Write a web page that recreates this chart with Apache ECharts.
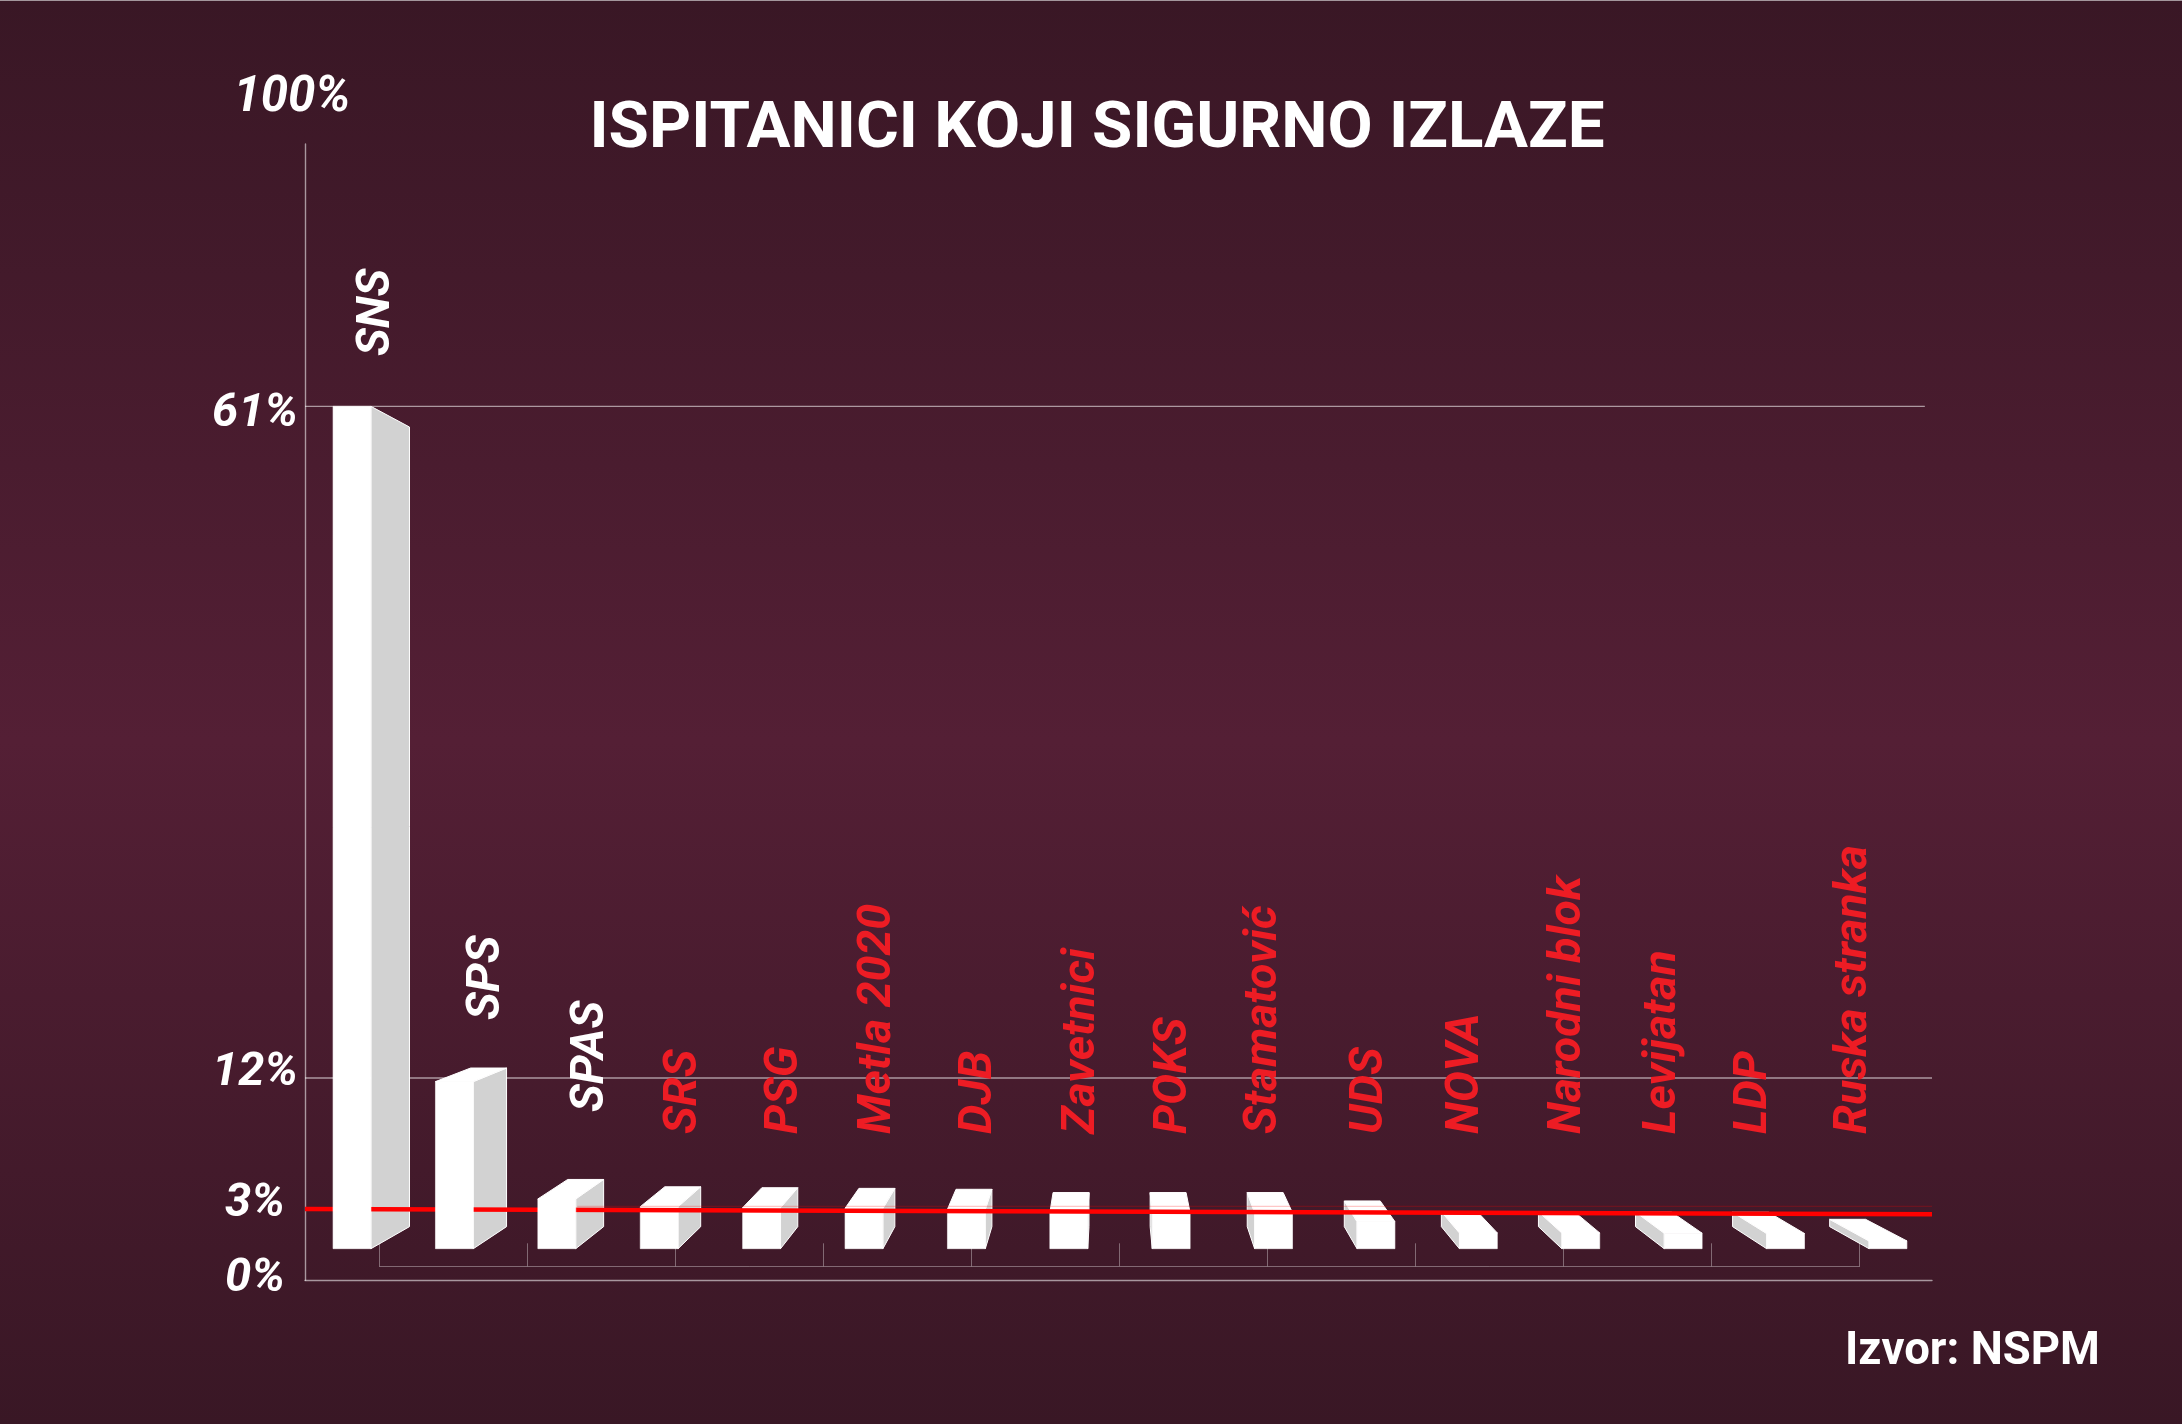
<!DOCTYPE html>
<html><head><meta charset="utf-8">
<style>html,body{margin:0;padding:0;background:#3a1826}#c{width:2182px;height:1424px}</style>
<script src="https://cdn.jsdelivr.net/npm/echarts@6/dist/echarts.min.js"></script>
</head><body><div id="c"></div>
<script>
// ---- data ----
const parties = ['SNS','SPS','SPAS','SRS','PSG','Metla 2020','DJB','Zavetnici','POKS','Stamatović','UDS','NOVA','Narodni blok','Levijatan','LDP','Ruska stranka'];
const shares  = [61,12.1,3.6,3.04,2.97,2.92,2.85,2.6,2.6,2.6,1.96,1.14,1.14,1.12,1.1,0.56];
const tickValues = [0,3,12,61,80];
const tickLabels = ['0%','3%','12%','61%','100%'];
const guide12 = 12.36;
const guide61 = 61;
const thresholdEnds = [2.875,2.5];
const thresholdFaint = 3.06;
const aboveThreshold = 3;      // first three parties pass the threshold (white labels)
const bracketBands = ['','','','','','','','','',''];

// ---- layout ----
const labelCx = [377,487,591,684.5,785,878,979,1082,1174,1264,1370,1466,1568,1663,1754,1854];
const labelBottom = [356,1020,1112,1134,1134,1134,1134,1134,1134,1134,1134,1134,1134,1134,1134,1134];
const tickShift = [[31,0],[-3,0],[-10,0],[8,0],[-45.5,37]]; // [dy,dx] of each tick label
const X_MIN = -0.459, X_MAX = 15.43;
const VP = {x:1112,y:814,kx:0.052,ky:0.0507};
const SANS = 'Roboto';

function back(p){return [p[0]+VP.kx*(VP.x-p[0]), p[1]+VP.ky*(VP.y-p[1])];}
function poly(points,fill,stroke){
  return {type:'polygon',shape:{points},style:{fill,stroke:stroke||null,lineWidth:stroke?1:0}};
}
function frontRect(api){
  const c=api.coord([api.value(0),api.value(1)]), b=api.coord([api.value(0),0]);
  const w=api.size([1,0])[0]*0.37;
  return {xl:c[0]-w/2,xr:c[0]+w/2,yt:c[1],yb:b[1]};
}
function rectEl(r){
  return {type:'rect',shape:{x:r.xl,y:r.yt,width:r.xr-r.xl,height:r.yb-r.yt},style:{fill:'#ffffff',stroke:'#ffffff',lineWidth:0.6}};
}
function bodyItem(params,api){
  const i=params.dataIndex, r=frontRect(api), kids=[];
  const tl=[r.xl,r.yt],tr=[r.xr,r.yt],bl=[r.xl,r.yb],br=[r.xr,r.yb];
  const btl=back(tl),btr=back(tr),bbl=back(bl),bbr=back(br);
  if(btr[0]>r.xr) kids.push(poly([tr,btr,bbr,br],'#d2d2d2','#ffffff'));
  if(btl[0]<r.xl) kids.push(poly([tl,btl,bbl,bl],'#d2d2d2','#ffffff'));
  if(r.yt>VP.y)   kids.push(poly([tl,tr,btr,btl],'#ffffff','#ffffff'));
  if(i>=aboveThreshold) kids.push(rectEl(r));
  return {type:'group',children:kids};
}
function frontItem(params,api){
  if(params.dataIndex>=aboveThreshold) return {type:'group',children:[]};
  return rectEl(frontRect(api));
}
function labelItem(params,api){
  const i=params.dataIndex;
  return {type:'text',x:labelCx[i],y:labelBottom[i],rotation:Math.PI/2,
    style:{text:parties[i],fill:i<aboveThreshold?'#ffffff':'#ed1c24',font:'italic 700 46.5px '+SANS,align:'left',verticalAlign:'middle'}};
}
const barData = shares.map((v,i)=>[i,v]);
const rich = {};
tickLabels.forEach((t,i)=>{
  const s=tickShift[i];
  rich['t'+i]={color:'#fff',fontFamily:SANS,fontStyle:'italic',fontWeight:700,fontSize:i===4?49:47,
    padding:[Math.max(0,s[0]*2),0,Math.max(0,-s[0]*2),Math.max(0,s[1]*2)]};
});
const lineGrey='rgba(255,255,255,0.55)';
const lineSeries=(name,pts,color,width,z)=>({type:'line',name,data:pts,symbol:'none',silent:true,z,
  lineStyle:{color,width},xAxisIndex:0,yAxisIndex:0,animation:false});

const chart=echarts.init(document.getElementById('c'),null,{renderer:'canvas'});
chart.setOption({
  animation:false,
  backgroundColor:{type:'linear',x:0,y:0,x2:0,y2:1,colorStops:[
    {offset:0,color:'#391725'},{offset:0.52,color:'#541f35'},{offset:1,color:'#391725'}]},
  title:[
    {text:'ISPITANICI KOJI SIGURNO IZLAZE',left:1092,top:93,textAlign:'center',
     textStyle:{color:'#fff',fontFamily:SANS,fontWeight:'bold',fontSize:65.5}},
    {text:'Izvor: NSPM',left:1840,top:1325,
     textStyle:{color:'#fff',fontFamily:SANS,fontWeight:'bold',fontSize:45.5}}
  ],
  grid:[
    {left:305,right:250,top:144,bottom:143.7},
    {left:379.5,width:1480,top:1243.3,height:23}
  ],
  xAxis:[
    {type:'value',gridIndex:0,min:X_MIN,max:X_MAX,axisLabel:{show:false},axisTick:{show:false},splitLine:{show:false},
     axisLine:{show:true,onZero:false,lineStyle:{color:lineGrey,width:1.4}}},
    {type:'category',gridIndex:1,data:bracketBands,axisLabel:{show:false},
     axisTick:{show:true,inside:true,length:23,interval:0,lineStyle:{color:'rgba(255,255,255,0.35)',width:1}},
     axisLine:{show:true,lineStyle:{color:'rgba(255,255,255,0.35)',width:1}}}
  ],
  yAxis:[
    {type:'value',gridIndex:0,min:-2.29,max:80,splitLine:{show:false},axisTick:{show:false},
     axisLine:{show:true,onZero:false,lineStyle:{color:lineGrey,width:1.4}},
     axisLabel:{customValues:tickValues,align:'center',margin:50,
       formatter:v=>{const i=tickValues.indexOf(v);return i<0?'':'{t'+i+'|'+tickLabels[i]+'}';},rich}},
    {type:'value',gridIndex:1,show:false,min:0,max:1}
  ],
  graphic:[{type:'rect',shape:{x:0,y:0,width:2182,height:1},style:{fill:'#a4979d'},silent:true}],
  series:[
    lineSeries('guide61',[[X_MIN,guide61],[15.36,guide61]],lineGrey,1.3,1),
    lineSeries('guide12',[[X_MIN,guide12],[X_MAX,guide12]],lineGrey,1.3,1),
    {type:'custom',name:'bars',renderItem:bodyItem,data:barData,encode:{x:0,y:1},z:2,silent:true},
    lineSeries('thresholdFaint',[[2.2,thresholdFaint],[X_MAX,thresholdFaint]],'rgba(255,0,0,0.22)',1.2,3),
    lineSeries('threshold',[[X_MIN,thresholdEnds[0]],[X_MAX,thresholdEnds[1]]],'#ff0000',4.5,3),
    {type:'custom',name:'fronts',renderItem:frontItem,data:barData,encode:{x:0,y:1},z:4,silent:true},
    {type:'custom',name:'labels',renderItem:labelItem,data:barData,encode:{x:0,y:1},z:5,silent:true}
  ]
});
</script></body></html>
